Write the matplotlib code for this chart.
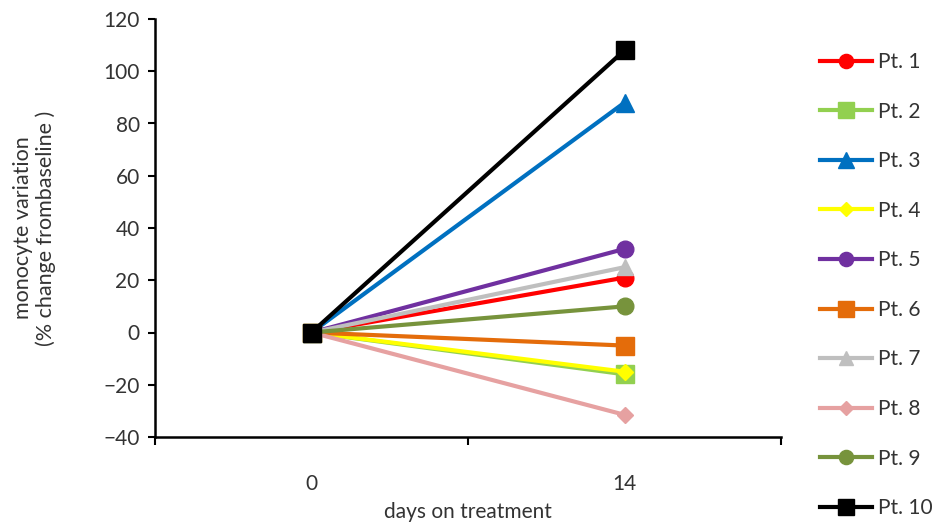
import matplotlib
matplotlib.use("Agg")
import matplotlib.pyplot as plt
from matplotlib.ticker import FixedLocator, NullFormatter, FixedFormatter

plt.rcParams['font.family'] = ['Lato', 'DejaVu Sans']

days = ["0", "14"]
patients = ["Pt. 1", "Pt. 2", "Pt. 3", "Pt. 4", "Pt. 5", "Pt. 6", "Pt. 7", "Pt. 8", "Pt. 9", "Pt. 10"]
values = [
    [0, 21],
    [0, -16],
    [0, 88],
    [0, -15],
    [0, 32],
    [0, -5],
    [0, 25],
    [0, -31.5],
    [0, 10],
    [0, 108],
]
colors = ["#FF0000", "#92D050", "#0070C0", "#FFFF00", "#7030A0",
          "#E46C0A", "#BFBFBF", "#E6A1A1", "#77933C", "#000000"]
markers = ["o", "s", "^", "D", "o", "s", "^", "D", "o", "s"]
msizes = [12, 13, 13, 8, 12, 13, 12, 8, 12, 13]
yticks = [-40, -20, 0, 20, 40, 60, 80, 100, 120]

FS = 15
fig = plt.figure(figsize=(9.44, 5.26), dpi=100)
ax = fig.add_axes([155/944, 1-437/526, (781-155)/944, (437-19)/526])

xpos = list(range(len(days)))
for name, vals, c, m, ms in zip(patients, values, colors, markers, msizes):
    ax.plot(xpos, vals, color=c, lw=3, marker=m, markersize=ms,
            markerfacecolor=c, markeredgecolor=c, label=name)

ax.set_xlim(-0.5, 1.5)
ax.set_ylim(-40, 120)
ax.set_yticks(yticks)
ax.tick_params(axis='y', direction='out', length=5, width=1.5, labelsize=FS, pad=6, colors='black')
ax.tick_params(axis='y', labelcolor='#333333')

ax.xaxis.set_major_locator(FixedLocator([-0.5, 0.5, 1.5]))
ax.xaxis.set_major_formatter(NullFormatter())
ax.xaxis.set_minor_locator(FixedLocator(xpos))
ax.xaxis.set_minor_formatter(FixedFormatter(days))
ax.tick_params(axis='x', which='major', direction='out', length=6, width=1.5)
ax.tick_params(axis='x', which='minor', length=0, labelsize=FS, pad=27, labelcolor='#333333')

for s in ['top', 'right']:
    ax.spines[s].set_visible(False)
for s in ['left', 'bottom']:
    ax.spines[s].set_linewidth(1.8)

ax.set_xlabel("days on treatment", fontsize=FS, color='#333333')
ax.xaxis.set_label_coords(0.5, -0.155)
ax.set_ylabel("monocyte variation\n(% change frombaseline )", fontsize=15.5, color='#333333', linespacing=1.15)
ax.yaxis.set_label_coords(-0.158, 0.5)

fig.legend(loc='upper left', bbox_to_anchor=(820/944, 1-52/526), frameon=False,
           fontsize=FS, handlelength=2.5, handletextpad=0.3, labelspacing=1.42,
           markerscale=0.85, borderpad=0, borderaxespad=0, labelcolor='#333333')

fig.savefig("out.png", dpi=100)
